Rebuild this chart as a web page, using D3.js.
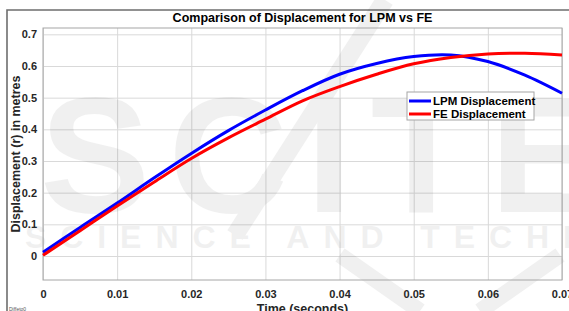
<!DOCTYPE html>
<html>
<head>
<meta charset="utf-8">
<script src="https://cdnjs.cloudflare.com/ajax/libs/d3/7.8.5/d3.min.js"></script>
<style>
  body { margin: 0; background: #fff; overflow: hidden; }
  svg { display: block; font-family: "Liberation Sans", Arial, sans-serif; }
</style>
</head>
<body>
<div id="graph"></div>
<script>
var width = 569;
var height = 311;
var margin = { top: 28, bottom: 31, left: 43, right: 7 };

// data
var timeSteps = [0, 0.005, 0.01, 0.015, 0.02, 0.025, 0.03, 0.035, 0.04, 0.045, 0.05, 0.055, 0.06, 0.065, 0.07];
var lpmDisp = [0.012, 0.090, 0.167, 0.247, 0.324, 0.396, 0.461, 0.522, 0.574, 0.608, 0.630, 0.635, 0.614, 0.571, 0.514];
var feDisp  = [0.002, 0.080, 0.158, 0.234, 0.308, 0.373, 0.432, 0.490, 0.535, 0.574, 0.607, 0.627, 0.638, 0.640, 0.635];
var xTicks = [0, 0.01, 0.02, 0.03, 0.04, 0.05, 0.06, 0.07];
var yTicks = [0, 0.1, 0.2, 0.3, 0.4, 0.5, 0.6, 0.7];
var seriesNames = ["LPM Displacement", "FE Displacement"];
var seriesColors = ["#0000ff", "#ff0000"];

var svg = d3.select("#graph").append("svg")
  .attr("width", width)
  .attr("height", height);

// figure frame (screenshot edge)
svg.append("path")
  .attr("d", "M7," + height + "V10H" + width)
  .attr("fill", "none")
  .attr("stroke", "#6e6e6e")
  .attr("stroke-width", 1.6);

var xScale = d3.scaleLinear().domain([0, 0.07]).range([margin.left, width - margin.right]);
var yScale = d3.scaleLinear().domain([-0.0758, 0.72]).range([height - margin.bottom, margin.top]);

var plotW = xScale.range()[1] - xScale.range()[0];
var plotH = yScale.range()[0] - yScale.range()[1];

// plot background
svg.append("rect")
  .attr("x", margin.left).attr("y", margin.top)
  .attr("width", plotW).attr("height", plotH)
  .attr("fill", "#fff");

// grid lines
svg.append("g")
  .attr("transform", "translate(0," + (height - margin.bottom) + ")")
  .call(d3.axisBottom(xScale).tickValues(xTicks).tickSize(-plotH).tickFormat(""))
  .call(function (g) {
    g.select(".domain").remove();
    g.selectAll("line").attr("stroke", "#d9d9d9");
  });
svg.append("g")
  .attr("transform", "translate(" + margin.left + ",0)")
  .call(d3.axisLeft(yScale).tickValues(yTicks).tickSize(-plotW).tickFormat(""))
  .call(function (g) {
    g.select(".domain").remove();
    g.selectAll("line").attr("stroke", "#d9d9d9");
  });

// faint watermark of the source page
var wm = svg.append("g").attr("fill", "#000").attr("opacity", 0.055);
wm.append("text")
  .attr("x", 40).attr("y", 212)
  .attr("font-size", 165)
  .attr("font-weight", "bold")
  .attr("textLength", 560)
  .attr("lengthAdjust", "spacing")
  .text("SCITE");
wm.append("text")
  .attr("x", 25).attr("y", 248)
  .attr("font-size", 32)
  .attr("font-weight", "bold")
  .attr("textLength", 600)
  .attr("lengthAdjust", "spacing")
  .text("SCIENCE AND TECHNO");
wm.append("path")
  .attr("d", "M385,0L235,235")
  .attr("stroke", "#000").attr("stroke-width", 18).attr("fill", "none");
wm.append("path")
  .attr("d", "M340,255L420,311M560,255L480,311")
  .attr("stroke", "#000").attr("stroke-width", 16).attr("fill", "none");

// plot box
svg.append("rect")
  .attr("x", margin.left).attr("y", margin.top)
  .attr("width", plotW).attr("height", plotH)
  .attr("fill", "none")
  .attr("stroke", "#a6a6a6")
  .attr("stroke-width", 1);

// tick labels
svg.append("g")
  .attr("transform", "translate(0," + (height - margin.bottom) + ")")
  .call(d3.axisBottom(xScale).tickValues(xTicks).tickSize(0).tickPadding(10)
    .tickFormat(function (d) { return d === 0 ? "0" : d3.format(".2f")(d); }))
  .call(function (g) {
    g.select(".domain").remove();
    g.selectAll("text")
      .attr("font-size", 11).attr("font-weight", "bold")
      .attr("font-family", "Liberation Sans, Arial, sans-serif")
      .attr("fill", "#262626");
  });
svg.append("g")
  .attr("transform", "translate(" + margin.left + ",0)")
  .call(d3.axisLeft(yScale).tickValues(yTicks).tickSize(0).tickPadding(6)
    .tickFormat(function (d) { return d === 0 ? "0" : d3.format(".1f")(d); }))
  .call(function (g) {
    g.select(".domain").remove();
    g.selectAll("text")
      .attr("font-size", 11).attr("font-weight", "bold")
      .attr("font-family", "Liberation Sans, Arial, sans-serif")
      .attr("fill", "#262626");
  });

// lines
var line = d3.line()
  .x(function (d) { return xScale(d[0]); })
  .y(function (d) { return yScale(d[1]); })
  .curve(d3.curveCatmullRom);

[lpmDisp, feDisp].forEach(function (vals, i) {
  svg.append("path")
    .datum(timeSteps.map(function (t, j) { return [t, vals[j]]; }))
    .attr("d", line)
    .attr("fill", "none")
    .attr("stroke", seriesColors[i])
    .attr("stroke-width", 3);
});

// title and axis labels
svg.append("text")
  .attr("x", (xScale.range()[0] + xScale.range()[1]) / 2)
  .attr("y", 22)
  .attr("text-anchor", "middle")
  .attr("font-size", 12.5).attr("font-weight", "bold")
  .attr("fill", "#000")
  .text("Comparison of Displacement for LPM vs FE");

svg.append("text")
  .attr("x", (xScale.range()[0] + xScale.range()[1]) / 2)
  .attr("y", 313)
  .attr("text-anchor", "middle")
  .attr("font-size", 12.5).attr("font-weight", "bold")
  .attr("fill", "#262626")
  .text("Time (seconds)");

svg.append("text")
  .attr("transform", "translate(20," + ((yScale.range()[0] + yScale.range()[1]) / 2) + ") rotate(-90)")
  .attr("text-anchor", "middle")
  .attr("font-size", 12.5).attr("font-weight", "bold")
  .attr("fill", "#262626")
  .text("Displacement (r) in metres");

svg.append("text")
  .attr("x", 9).attr("y", 311)
  .attr("font-size", 5)
  .attr("fill", "#555")
  .text("Diffeto0");

// legend
var legend = svg.append("g").attr("transform", "translate(407,92)");
legend.append("rect")
  .attr("width", 127).attr("height", 28)
  .attr("fill", "#fff")
  .attr("stroke", "#a6a6a6");
seriesNames.forEach(function (name, i) {
  var yy = 9 + i * 13;
  legend.append("line")
    .attr("x1", 2).attr("x2", 24)
    .attr("y1", yy).attr("y2", yy)
    .attr("stroke", seriesColors[i]).attr("stroke-width", 3);
  legend.append("text")
    .attr("x", 26).attr("y", yy + 4)
    .attr("font-size", 11.5).attr("font-weight", "bold")
    .attr("fill", "#000")
    .text(name);
});
</script>
</body>
</html>
